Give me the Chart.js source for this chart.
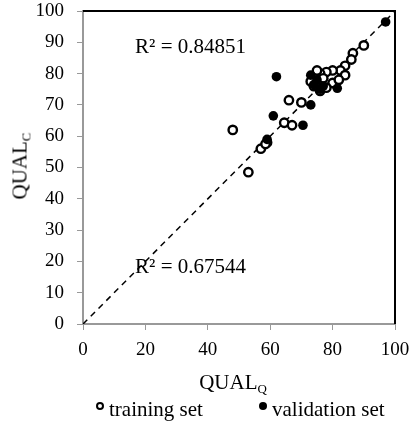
<!DOCTYPE html>
<html>
<head>
<meta charset="utf-8">
<script src="https://cdn.jsdelivr.net/npm/chart.js@4"></script>
<style>
  html,body{margin:0;padding:0;background:#fff;}
  #wrap{position:relative;width:413px;height:432px;font-family:"Liberation Serif","Times New Roman",serif;color:#000;}
  #c{position:absolute;left:0;top:0;}
  .ttl{position:absolute;font-size:21px;white-space:nowrap;line-height:1;}
  .ttl sub{font-size:13px;vertical-align:-4px;}
  #ytitle{left:21px;top:166px;transform:translate(-50%,-50%) rotate(-90deg);}
  #xtitle{left:233px;top:383px;transform:translate(-50%,-50%);}
  .leg{position:absolute;top:399px;font-size:21px;white-space:nowrap;line-height:1;}
  .mk{display:inline-block;width:8px;height:8px;border-radius:50%;margin-right:5px;vertical-align:6px;box-sizing:border-box;}
  .mk.open{border:2px solid #000;background:#fff;}
  .mk.fill{background:#000;}
</style>
</head>
<body>
<div id="wrap">
  <canvas id="c" width="413" height="432"></canvas>
  <div class="ttl" id="ytitle">QUAL<sub>C</sub></div>
  <div class="ttl" id="xtitle">QUAL<sub>Q</sub></div>
  <div class="leg" style="left:96px"><span class="mk open"></span>training set</div>
  <div class="leg" style="left:259px"><span class="mk fill"></span>validation set</div>
</div>
<script>
// training set (QUAL_Q, QUAL_C)
const trainQ = [90, 86.5, 86, 84, 82.5, 80, 78, 76, 74, 73, 75, 77, 80, 84, 82, 76, 78, 74, 66, 70, 64.5, 67, 59, 57, 58.5, 53, 48];
const trainC = [89, 86.5, 84.5, 82.5, 81, 81, 80.5, 80, 79, 77.5, 81, 78.5, 77, 79.5, 78, 74.5, 75.5, 76, 71.5, 70.8, 64.3, 63.5, 58, 56, 57.5, 48.5, 62];
// validation set
const validQ = [97, 62, 73, 61, 70.5, 59, 81.5, 73, 74, 75, 77, 76];
const validC = [96.5, 79, 70, 66.5, 63.5, 59, 75.3, 79.5, 76.5, 78, 76, 75];

const r2Text = ['R\u00B2 = 0.84851', 'R\u00B2 = 0.67544'];

const xTicks = [0, 20, 40, 60, 80, 100];
const yTicks = [0, 10, 20, 30, 40, 50, 60, 70, 80, 90, 100];

const pts = (xs, ys) => xs.map((x, i) => ({x, y: ys[i]}));

const frame = {
  id: 'frame',
  afterDraw(chart){
    const {ctx, chartArea: a} = chart;
    ctx.save();
    ctx.strokeStyle = '#000';
    ctx.lineWidth = 2;
    ctx.beginPath();
    ctx.moveTo(a.left, a.top);
    ctx.lineTo(a.right, a.top);
    ctx.lineTo(a.right, a.bottom);
    ctx.stroke();
    // R² labels
    const sx = chart.scales.x, sy = chart.scales.y;
    ctx.fillStyle = '#000';
    ctx.font = '21px "Liberation Serif", serif';
    ctx.textAlign = 'left';
    ctx.textBaseline = 'middle';
    ctx.fillText(r2Text[0], sx.getPixelForValue(16.7), sy.getPixelForValue(88.2));
    ctx.fillText(r2Text[1], sx.getPixelForValue(16.7), sy.getPixelForValue(17.9));
    ctx.restore();
  }
};

new Chart(document.getElementById('c'), {
  type: 'scatter',
  data: {
    datasets: [
      {label: 'training set', data: pts(trainQ, trainC), pointRadius: 4.2, pointBorderWidth: 2.4,
       pointBackgroundColor: '#fff', pointBorderColor: '#000', order: 1},
      {label: 'validation set', data: pts(validQ, validC), pointRadius: 4.8, pointBorderWidth: 0,
       pointBackgroundColor: '#000', pointBorderColor: '#000', order: 0},
      {type: 'line', label: 'y=x', data: [{x: 0, y: 0}, {x: 100, y: 100}], borderColor: '#000',
       borderWidth: 1.5, borderDash: [6, 5], pointRadius: 0, order: 2}
    ]
  },
  options: {
    responsive: false,
    animation: false,
    layout: {padding: {left: 0, top: 11, right: 18, bottom: 0}},
    plugins: {legend: {display: false}, tooltip: {enabled: false}},
    scales: {
      x: {
        type: 'linear', min: 0, max: 100,
        afterBuildTicks: s => { s.ticks = xTicks.map(v => ({value: v})); },
        afterFit: s => { s.height = 108; s.paddingLeft = 0; s.paddingRight = 0; },
        grid: {display: true, drawOnChartArea: false, tickLength: 6, color: '#999'},
        border: {color: '#999', width: 2},
        ticks: {color: '#000', padding: 9, font: {family: '"Liberation Serif", serif', size: 19}}
      },
      y: {
        min: 0, max: 100,
        afterBuildTicks: s => { s.ticks = yTicks.map(v => ({value: v})); },
        afterFit: s => { s.width = 83; s.paddingTop = 0; s.paddingBottom = 0; },
        grid: {display: true, drawOnChartArea: false, tickLength: 6, color: '#999'},
        border: {color: '#999', width: 2},
        ticks: {color: '#000', padding: 13, font: {family: '"Liberation Serif", serif', size: 19}}
      }
    }
  },
  plugins: [frame]
});
</script>
</body>
</html>
